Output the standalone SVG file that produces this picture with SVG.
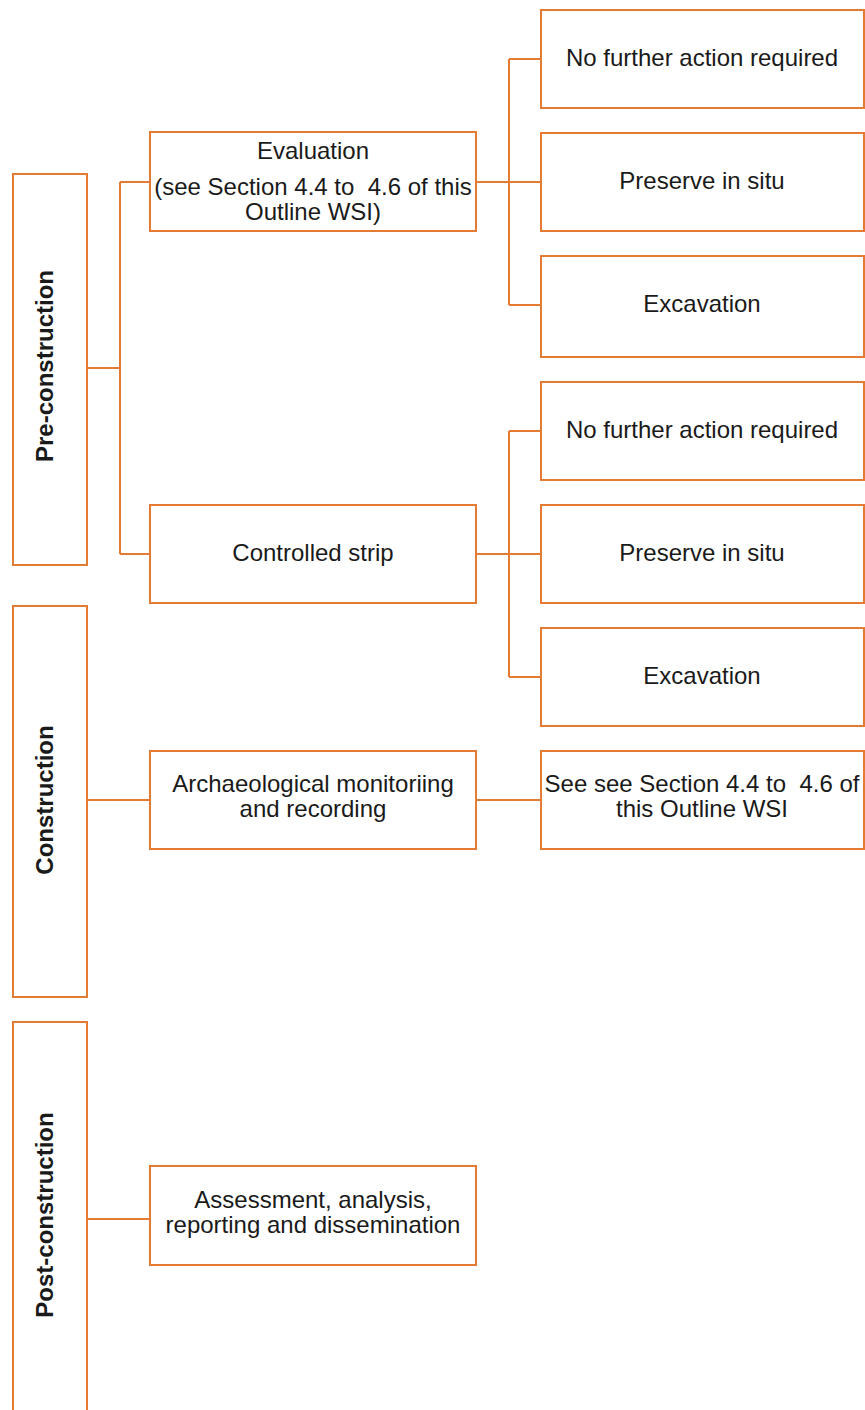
<svg xmlns="http://www.w3.org/2000/svg" width="865" height="1410" viewBox="0 0 865 1410">
<style>
.box{fill:#fff;stroke:#E47B34;stroke-width:2}
.ln{fill:none;stroke:#E47B34;stroke-width:2}
.t{font-family:"Liberation Sans",Arial,sans-serif;font-size:24px;fill:#1a1a1a;text-anchor:middle;white-space:pre}
.v{font-family:"Liberation Sans",Arial,sans-serif;font-size:24px;font-weight:bold;fill:#1a1a1a;text-anchor:middle}
</style>
<rect width="865" height="1410" fill="#fff"/>
<g id="connectors">
<path class="ln" d="M87,368 H120 M120,182 V554 M120,182 H150 M120,554 H150"/>
<path class="ln" d="M476,182 H541 M509,59 V305 M509,59 H541 M509,305 H541"/>
<path class="ln" d="M476,554 H541 M509,431 V677 M509,431 H541 M509,677 H541"/>
<path class="ln" d="M87,800 H150 M476,800 H541"/>
<path class="ln" d="M87,1219 H150"/>
</g>
<g id="pre-construction">
<rect class="box" x="13" y="174" width="74" height="391"/>
<text class="v" transform="translate(53,366) rotate(-90)">Pre-construction</text>
</g>
<g id="construction">
<rect class="box" x="13" y="606" width="74" height="391"/>
<text class="v" transform="translate(53,800) rotate(-90)">Construction</text>
</g>
<g id="post-construction">
<rect class="box" x="13" y="1022" width="74" height="420"/>
<text class="v" transform="translate(53,1215) rotate(-90)">Post-construction</text>
</g>
<g id="evaluation">
<rect class="box" x="150" y="132" width="326" height="99"/>
<text class="t" xml:space="preserve"><tspan x="313" y="159">Evaluation</tspan><tspan x="313" y="195">(see Section 4.4 to  4.6 of this</tspan><tspan x="313" y="220">Outline WSI)</tspan></text>
</g>
<g id="controlled-strip">
<rect class="box" x="150" y="505" width="326" height="98"/>
<text class="t" x="313" y="561">Controlled strip</text>
</g>
<g id="monitoring">
<rect class="box" x="150" y="751" width="326" height="98"/>
<text class="t"><tspan x="313" y="792">Archaeological monitoriing</tspan><tspan x="313" y="817">and recording</tspan></text>
</g>
<g id="assessment">
<rect class="box" x="150" y="1166" width="326" height="99"/>
<text class="t"><tspan x="313" y="1208">Assessment, analysis,</tspan><tspan x="313" y="1233">reporting and dissemination</tspan></text>
</g>
<g id="eval-nfa">
<rect class="box" x="541" y="10" width="323" height="98"/>
<text class="t" x="702" y="66">No further action required</text>
</g>
<g id="eval-preserve">
<rect class="box" x="541" y="133" width="323" height="98"/>
<text class="t" x="702" y="189">Preserve in situ</text>
</g>
<g id="eval-excavation">
<rect class="box" x="541" y="256" width="323" height="101"/>
<text class="t" x="702" y="312">Excavation</text>
</g>
<g id="strip-nfa">
<rect class="box" x="541" y="382" width="323" height="98"/>
<text class="t" x="702" y="438">No further action required</text>
</g>
<g id="strip-preserve">
<rect class="box" x="541" y="505" width="323" height="98"/>
<text class="t" x="702" y="561">Preserve in situ</text>
</g>
<g id="strip-excavation">
<rect class="box" x="541" y="628" width="323" height="98"/>
<text class="t" x="702" y="684">Excavation</text>
</g>
<g id="see-section">
<rect class="box" x="541" y="751" width="323" height="98"/>
<text class="t" xml:space="preserve"><tspan x="702" y="792">See see Section 4.4 to  4.6 of</tspan><tspan x="702" y="817">this Outline WSI</tspan></text>
</g>
</svg>
